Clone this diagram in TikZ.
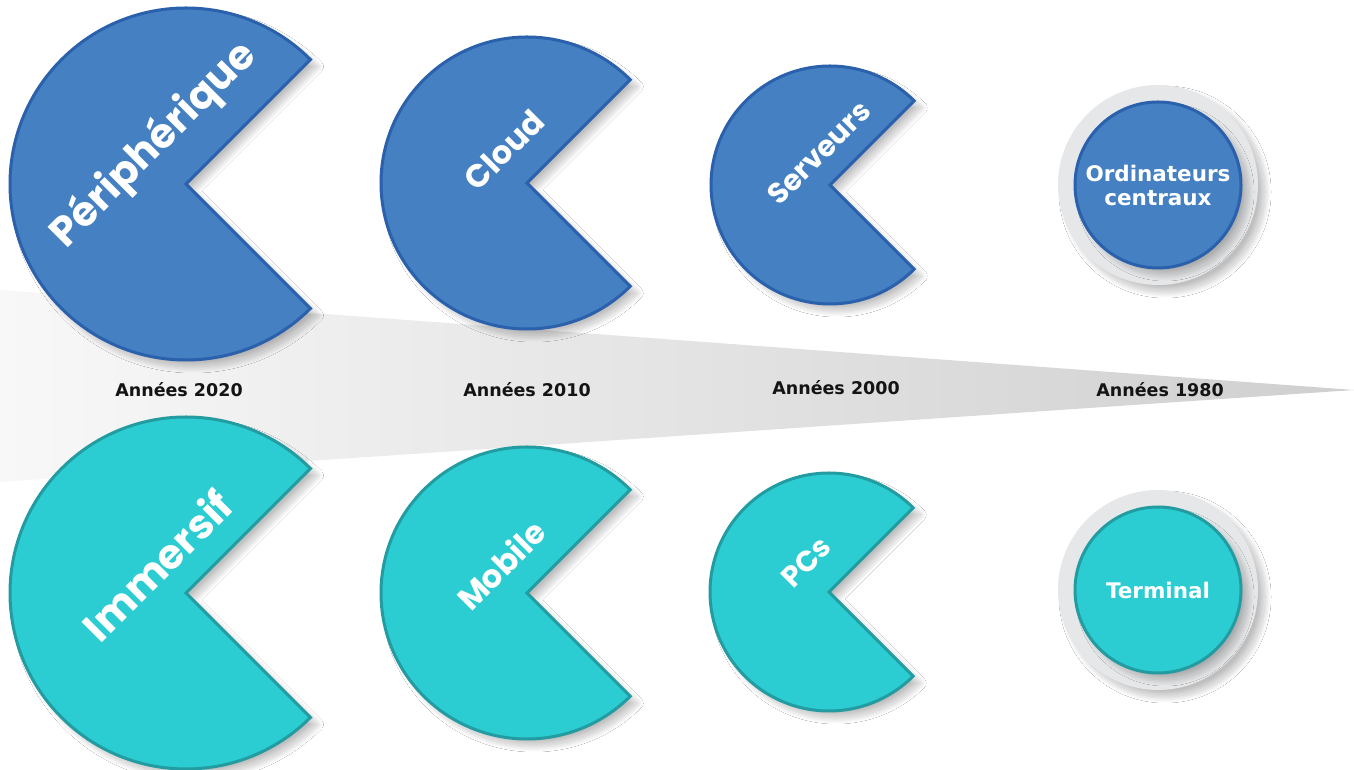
\documentclass[tikz,border=0pt]{standalone}
\usepackage{fontspec}
\newfontfamily\pacfont{Poppins}
\newfontfamily\labfont{DejaVu Sans}
\usetikzlibrary{shadows.blur}
\definecolor{blueFill}{HTML}{4480C2}
\definecolor{blueEdge}{HTML}{2A60AC}
\definecolor{tealFill}{HTML}{2BCDD2}
\definecolor{tealEdge}{HTML}{229CA1}
\definecolor{haloGray}{HTML}{E6E7E9}
\definecolor{bandLight}{HTML}{F8F8F8}
\definecolor{bandDark}{HTML}{CFCFCF}

\begin{document}
\begin{tikzpicture}[x=1pt,y=1pt]
		\tikzset{
			soft shadow/.style = {blur shadow={shadow xshift=7pt, shadow yshift=-7pt, shadow blur radius=6pt, shadow blur steps=30, shadow opacity=25}},
			pac/.style = {line width=3pt, line join=miter, soft shadow},
			blue pac/.style = {pac, fill=blueFill, draw=blueEdge},
			teal pac/.style = {pac, fill=tealFill, draw=tealEdge},
			pac text/.style = {text=white, rotate=45, inner sep=0pt, font=\pacfont\bfseries\fontsize{#1}{#1}\selectfont},
			disc text/.style = {text=white, align=center, inner sep=0pt, font=\labfont\bfseries\fontsize{21.5}{24}\selectfont},
			year/.style = {text=black!92, inner sep=0pt, font=\labfont\bfseries\fontsize{17.5}{20}\selectfont},
			halo/.style = {fill=haloGray, soft shadow}
		}
		\useasboundingbox (0,0) rectangle (1354,770);
		\fill[white] (0,0) rectangle (1354,770);
		% time band
		\shade[left color=bandLight, right color=bandDark] (0,480) -- (1354,380) -- (0,288) -- cycle;
		% centres
		\coordinate (peri) at (186,586);
		\coordinate (cloud) at (527,587);
		\coordinate (serv) at (830,585);
		\coordinate (main) at (1158,585);
		\coordinate (imm) at (186,177);
		\coordinate (mob) at (527,177);
		\coordinate (pcs) at (829,178);
		\coordinate (term) at (1158,180);
		% top row
		\draw[blue pac] (peri) -- ++(45:176) arc[start angle=45, end angle=315, radius=176] -- cycle;
		\draw[blue pac] (cloud) -- ++(45:146) arc[start angle=45, end angle=315, radius=146] -- cycle;
		\draw[blue pac] (serv) -- ++(45:119) arc[start angle=45, end angle=315, radius=119] -- cycle;
		\fill[halo] (main) circle[radius=100];
		\draw[blue pac] (main) circle[radius=83];
		% bottom row
		\draw[teal pac] (imm) -- ++(45:176) arc[start angle=45, end angle=315, radius=176] -- cycle;
		\draw[teal pac] (mob) -- ++(45:146) arc[start angle=45, end angle=315, radius=146] -- cycle;
		\draw[teal pac] (pcs) -- ++(45:119) arc[start angle=45, end angle=315, radius=119] -- cycle;
		\fill[halo] (term) circle[radius=100];
		\draw[teal pac] (term) circle[radius=83];
		% labels
		\node[pac text=41] (periText) at (154,625) {Périphérique};
		\node[pac text=32] (cloudText) at (504,620) {Cloud};
		\node[pac text=29] (servText) at (819,617) {Serveurs};
		\node[disc text] (mainText) at (main) {Ordinateurs\\centraux};
		\node[pac text=41] (immText) at (157,205) {Immersif};
		\node[pac text=32] (mobText) at (501,205) {Mobile};
		\node[pac text=29] (pcsText) at (806,208) {PCs};
		\node[disc text] (termText) at (term) {Terminal};
		\node[year] (y2020) at (179,380) {Années 2020};
		\node[year] (y2010) at (527,380) {Années 2010};
		\node[year] (y2000) at (836,382) {Années 2000};
		\node[year] (y1980) at (1160,380) {Années 1980};
\end{tikzpicture}
\end{document}
